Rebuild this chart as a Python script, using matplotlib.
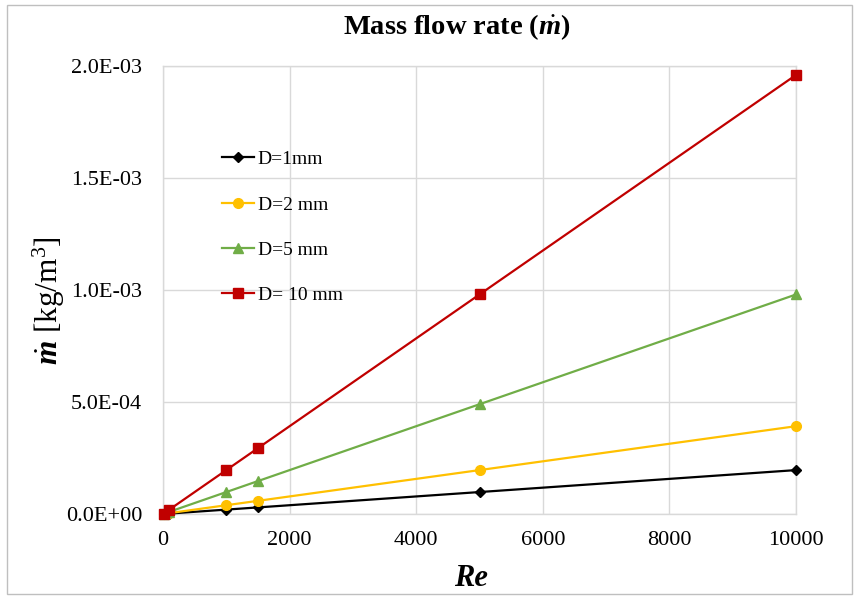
import matplotlib
matplotlib.use("Agg")
import matplotlib.pyplot as plt
from matplotlib.ticker import FuncFormatter, MultipleLocator
from matplotlib.patches import Rectangle

plt.rcParams['font.family'] = ['Liberation Serif', 'DejaVu Serif']
plt.rcParams['mathtext.fontset'] = 'custom'
plt.rcParams['mathtext.rm'] = 'Liberation Serif'
plt.rcParams['mathtext.it'] = 'Liberation Serif:italic'
plt.rcParams['mathtext.bf'] = 'Liberation Serif:bold'
plt.rcParams['mathtext.bfit'] = 'Liberation Serif:italic:bold'

# Data
re_values = [10, 100, 1000, 1500, 5000, 10000]
d1_mm = [1.96e-7, 1.96e-6, 1.96e-5, 2.94e-5, 9.8e-5, 1.96e-4]
d2_mm = [3.92e-7, 3.92e-6, 3.92e-5, 5.88e-5, 1.96e-4, 3.92e-4]
d5_mm = [9.8e-7, 9.8e-6, 9.8e-5, 1.47e-4, 4.9e-4, 9.8e-4]
d10_mm = [1.96e-6, 1.96e-5, 1.96e-4, 2.94e-4, 9.8e-4, 1.96e-3]
labels = ['D=1mm', 'D=2 mm', 'D=5 mm', 'D= 10 mm']
colors = ['#000000', '#FFC000', '#70AD47', '#C00000']
markers = ['D', 'o', '^', 's']
msizes = [5, 7, 7, 7.5]

W, H = 859, 597
fig = plt.figure(figsize=(W/100, H/100), dpi=100)
ax = fig.add_axes([163/W, 1-514/H, (796-163)/W, (514-66)/H])

for ys, lab, c, m, ms in zip([d1_mm, d2_mm, d5_mm, d10_mm], labels, colors, markers, msizes):
    ax.plot(re_values, ys, color=c, marker=m, markersize=ms, linewidth=1.6, label=lab,
            clip_on=False, zorder=3)

ax.set_xlim(0, 10000)
ax.set_ylim(0, 2.0e-3)
ax.xaxis.set_major_locator(MultipleLocator(2000))
ax.yaxis.set_major_locator(MultipleLocator(5e-4))

def yfmt(v, pos):
    s = f"{v:.1E}"
    mant, exp = s.split('E')
    e = int(exp)
    sign = '-' if e < 0 else '+'
    return f"{mant}E{sign}{abs(e):02d}"
ax.yaxis.set_major_formatter(FuncFormatter(yfmt))

ax.grid(True, color='#d9d9d9', linewidth=1.0, zorder=0)
ax.set_axisbelow(True)
for sp in ax.spines.values():
    sp.set_color('#d9d9d9')
    sp.set_linewidth(1.0)
ax.tick_params(axis='both', length=0, labelsize=16)
ax.tick_params(axis='x', pad=12)
ax.tick_params(axis='y', pad=15)

ax.set_xlabel('Re', fontsize=22, fontweight='bold', fontstyle='italic')
ax.xaxis.set_label_coords((471-163)/633, -(578-514)/448)
ax.xaxis.label.set_va('center')
ax.set_ylabel(r'$\dot{\mathbfit{m}}$ [kg/m$^3$]', fontsize=22.5)
ax.yaxis.set_label_coords(-(163-49)/633, (514-301)/448)
ax.yaxis.label.set_va('center')

fig.text(457/W, 1-27/H, r'Mass flow rate ($\dot{\mathbfit{m}}$)', fontsize=20.5,
         fontweight='bold', ha='center', va='center')

leg = ax.legend(loc='upper left', bbox_to_anchor=(0.093, 0.811), frameon=False,
                fontsize=14, handlelength=1.65, handletextpad=0.2,
                labelspacing=1.42, borderpad=0, borderaxespad=0)

fig.patches.append(Rectangle((7/W, 3/H), (852-7)/W, (592-3)/H, transform=fig.transFigure,
                             fill=False, edgecolor='#bfbfbf', linewidth=1.0))

fig.savefig('out.png', dpi=100)
